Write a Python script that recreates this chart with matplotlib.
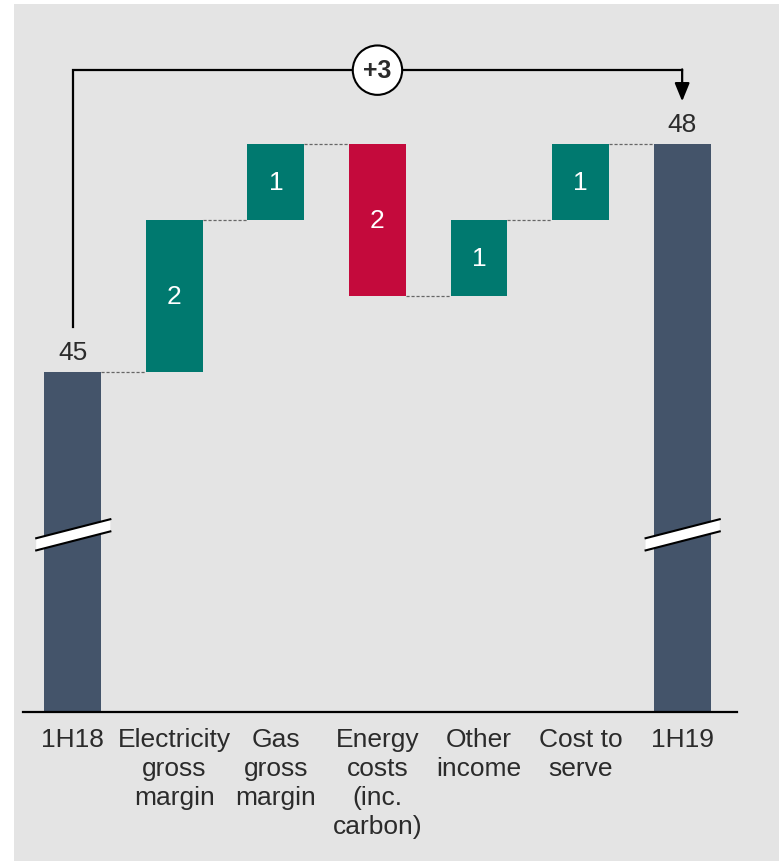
import matplotlib
matplotlib.use("Agg")
import matplotlib.pyplot as plt
from matplotlib.patches import Rectangle, Polygon

plt.rcParams['font.family'] = ['Liberation Sans', 'DejaVu Sans']

# data
categories = ['1H18', 'Electricity\ngross\nmargin', 'Gas\ngross\nmargin',
              'Energy\ncosts\n(inc.\ncarbon)', 'Other\nincome', 'Cost to\nserve', '1H19']
start_value = 45
deltas = [2, 1, -2, 1, 1]
end_value = 48
change_label = '+3'

dark = '#44546a'
teal = '#00796f'
red = '#c40a3c'
txt = '#2b2b2b'
fs = 19

fig = plt.figure(figsize=(7.79, 8.62), dpi=100)
fig.patches.append(Rectangle((14 / 779, 0), 1 - 14 / 779, 1 - 5 / 862,
                             transform=fig.transFigure, fc='#e4e4e4', ec='none', zorder=-10))

ax = fig.add_axes([23 / 779, 1 - 713 / 862, 714 / 779, 708 / 862])
ax.set_facecolor('none')
ymin, ymax = 40.53, 49.84
ax.set_xlim(-0.49, 6.54)
ax.set_ylim(ymin, ymax)
width = 0.56

# totals
ax.bar(0, start_value - ymin, bottom=ymin, width=width, color=dark, zorder=2)
ax.bar(6, end_value - ymin, bottom=ymin, width=width, color=dark, zorder=2)

# steps
running = start_value
levels = [start_value]
for i, d in enumerate(deltas, start=1):
    bottom = running if d > 0 else running + d
    ax.bar(i, abs(d), bottom=bottom, width=width, color=teal if d > 0 else red, zorder=2)
    ax.text(i, bottom + abs(d) / 2, str(abs(d)), color='white', fontsize=fs,
            ha='center', va='center', zorder=3)
    running += d
    levels.append(running)

# connectors
for i, lv in enumerate(levels):
    ax.plot([i + width / 2, i + 1 - width / 2], [lv, lv], color='#666666',
            lw=0.9, ls=(0, (2.5, 1.5)), zorder=1)

# value labels on totals
ax.text(0, start_value + 0.11, str(start_value), ha='center', va='bottom', fontsize=fs, color=txt)
ax.text(6, end_value + 0.11, str(end_value), ha='center', va='bottom', fontsize=fs, color=txt)

# axis break marks
brk = 42.86
for xc in (0, 6):
    x0, x1 = xc - 0.36, xc + 0.37
    lo, hi = brk - 0.125, brk + 0.125
    th = 0.08
    ax.add_patch(Polygon([(x0, lo - th), (x1, hi - th), (x1, hi + th), (x0, lo + th)],
                         closed=True, fc='white', ec='none', zorder=4))
    ax.plot([x0, x1], [lo + th, hi + th], color='black', lw=1.5, zorder=5)
    ax.plot([x0, x1], [lo - th, hi - th], color='black', lw=1.5, zorder=5)

# bracket with change
top = 48.97
ax.plot([0, 0, 6], [45.59, top, top], color='black', lw=1.6, zorder=3,
        solid_joinstyle='miter')
ax.annotate('', xy=(6, 48.56), xytext=(6, top + 0.01),
            arrowprops=dict(arrowstyle='-|>,head_length=1.1,head_width=0.45',
                            color='black', lw=1.6, shrinkA=0, shrinkB=0), zorder=3)
ax.text(3, top, change_label, ha='center', va='center', fontsize=18, fontweight='bold',
        color=txt, zorder=6,
        bbox=dict(boxstyle='circle,pad=0.42', fc='white', ec='black', lw=1.5))

# axes styling
for s in ('top', 'right', 'left'):
    ax.spines[s].set_visible(False)
ax.spines['bottom'].set_linewidth(1.6)
ax.spines['bottom'].set_zorder(6)
ax.set_yticks([])
ax.set_xticks(range(len(categories)))
ax.set_xticklabels(categories, fontsize=fs, color=txt, linespacing=1.26)
ax.tick_params(axis='x', length=0, pad=11)

fig.savefig('out.png', dpi=100)
